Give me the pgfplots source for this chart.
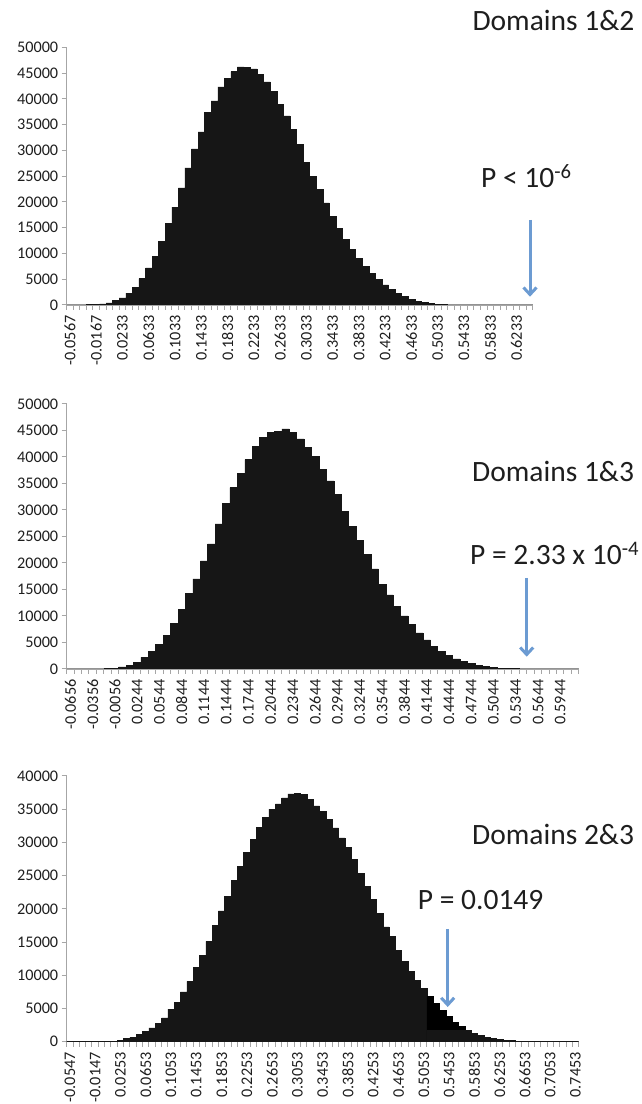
\documentclass[border=0pt]{standalone}
\usepackage{fontspec}
\setmainfont{Carlito}
\usepackage{pgfplots}
\pgfplotsset{compat=1.18}
\usetikzlibrary{arrows.meta}
\definecolor{barcol}{RGB}{22,22,22}
\definecolor{axgray}{RGB}{166,166,166}
\definecolor{arrowblue}{RGB}{108,155,210}
\definecolor{txt}{RGB}{30,30,30}
\pgfplotsset{
 hist/.style={
  scale only axis,
  axis lines*=left,
  tick pos=left,
  tick align=outside,
  enlargelimits=false,
  ymin=0,
  ytick distance=5000,
  scaled y ticks=false,
  axis line style={draw=axgray, line width=1.2pt},
  major tick length=5pt, minor tick length=5pt,
  every tick/.style={draw=axgray, line width=1pt},
  major x tick style={draw=none},
  /pgf/number format/assume math mode=true,
  /pgf/number format/1000 sep={},
  yticklabel style={font=\fontsize{16.2}{19}\selectfont, text=txt},
  xticklabel style={font=\fontsize{16.2}{19}\selectfont, text=txt, rotate=90, anchor=east, xshift=-2pt},
 },
 bars/.style={ybar, bar width=1, bar shift=0pt, fill=barcol, draw=barcol, line width=0.5pt},
}
\begin{document}
\begin{tikzpicture}[x=1pt,y=1pt]
\useasboundingbox (0,0) rectangle (641,1104);
% Panel 1: Domains 1&2
\begin{axis}[hist, at={(66.7pt,799pt)}, anchor=south west, width=466.3pt, height=257.7pt,
  xmin=-0.5, xmax=70.5, ymax=50000,
  xtick={0,4,...,68},
  xticklabels={-0.0567,-0.0167,0.0233,0.0633,0.1033,0.1433,0.1833,0.2233,0.2633,0.3033,0.3433,0.3833,0.4233,0.4633,0.5033,0.5433,0.5833,0.6233},
  minor xtick={-0.5,0.5,...,70.5}]
\addplot[bars] coordinates {
(0,30)(1,30)(2,40)(3,60)(4,100)(5,200)(6,400)(7,850)(8,1400)(9,2300)
(10,3400)(11,5100)(12,7200)(13,9500)(14,12300)(15,15800)(16,19000)(17,22700)(18,26600)(19,30300)
(20,33600)(21,37400)(22,39600)(23,42300)(24,44000)(25,45300)(26,46200)(27,46100)(28,45800)(29,44700)
(30,43300)(31,41400)(32,38900)(33,36700)(34,34100)(35,31200)(36,27700)(37,25000)(38,22500)(39,19800)
(40,17200)(41,14900)(42,12800)(43,10800)(44,9100)(45,7500)(46,6200)(47,5000)(48,3900)(49,3050)
(50,2300)(51,1600)(52,1100)(53,700)(54,450)(55,260)(56,130)(57,60)(58,40)(59,30)
(60,20)(61,20)(62,20)(63,20)(64,20)(65,20)(66,20)(67,20)(68,20)(69,20)(70,20)};
\end{axis}
% Panel 2: Domains 1&3
\begin{axis}[hist, at={(66.7pt,435pt)}, anchor=south west, width=512pt, height=265pt,
  xmin=-0.5, xmax=68.5, ymax=50000,
  xtick={0,3,...,66},
  xticklabels={-0.0656,-0.0356,-0.0056,0.0244,0.0544,0.0844,0.1144,0.1444,0.1744,0.2044,0.2344,0.2644,0.2944,0.3244,0.3544,0.3844,0.4144,0.4444,0.4744,0.5044,0.5344,0.5644,0.5944},
  minor xtick={-0.5,0.5,...,68.5}]
\addplot[bars] coordinates {
(0,30)(1,30)(2,30)(3,30)(4,40)(5,60)(6,100)(7,400)(8,750)(9,1300)
(10,2200)(11,3300)(12,4700)(13,6400)(14,8600)(15,11200)(16,14200)(17,17000)(18,20400)(19,23600)
(20,27400)(21,31200)(22,34200)(23,36900)(24,39500)(25,42000)(26,43700)(27,44700)(28,44800)(29,45300)
(30,44700)(31,43400)(32,41800)(33,40100)(34,37600)(35,35500)(36,32900)(37,29700)(38,26900)(39,24300)
(40,21600)(41,18900)(42,16000)(43,14000)(44,11800)(45,10000)(46,8400)(47,6800)(48,5500)(49,4300)
(50,3300)(51,2500)(52,1900)(53,1400)(54,1000)(55,700)(56,450)(57,300)(58,180)(59,110)
(60,60)(61,40)(62,30)(63,20)(64,20)(65,20)(66,20)(67,20)(68,20)};
\end{axis}
% Panel 3: Domains 2&3
\begin{axis}[hist, at={(66.7pt,62.3pt)}, anchor=south west, width=512pt, height=265.7pt,
  xmin=-0.5, xmax=80.5, ymax=40000,
  xtick={0,4,...,80},
  xticklabels={-0.0547,-0.0147,0.0253,0.0653,0.1053,0.1453,0.1853,0.2253,0.2653,0.3053,0.3453,0.3853,0.4253,0.4653,0.5053,0.5453,0.5853,0.6253,0.6653,0.7053,0.7453},
  minor xtick={-0.5,0.5,...,80.5}]
\addplot[bars] coordinates {
(0,30)(1,30)(2,30)(3,30)(4,30)(5,40)(6,60)(7,100)(8,250)(9,450)
(10,700)(11,1100)(12,1500)(13,2100)(14,2750)(15,3600)(16,4900)(17,5900)(18,7500)(19,9100)
(20,11200)(21,13000)(22,15100)(23,17500)(24,19700)(25,21900)(26,24300)(27,26400)(28,28500)(29,30500)
(30,32300)(31,33800)(32,35000)(33,35800)(34,36700)(35,37300)(36,37400)(37,37200)(38,36500)(39,35500)
(40,34700)(41,33500)(42,32200)(43,30700)(44,29200)(45,27400)(46,25300)(47,23400)(48,21400)(49,19300)
(50,17300)(51,15800)(52,13800)(53,12100)(54,10600)(55,9200)(56,8000)(57,6800)(58,5800)(59,4700)
(60,3800)(61,2900)(62,2300)(63,1700)(64,1250)(65,900)(66,650)(67,450)(68,300)(69,200)
(70,150)(71,100)(72,70)(73,50)(74,40)(75,30)(76,30)(77,20)(78,20)(79,20)(80,20)};
\addplot[bars, fill=black, draw=black] coordinates {
(57,6800)(58,5800)(59,4700)(60,3800)(61,2900)(62,2300)};
\addplot[bars] coordinates {
(57,1760)(58,1760)(59,1760)(60,1760)(61,1760)(62,1760)};
\end{axis}
% annotations
\begin{scope}[every node/.style={anchor=base west, inner sep=0pt, text=txt, font=\fontsize{29.5}{35}\selectfont}]
\node at (472.3,1073) {Domains 1\&2};
\node at (481,916.3) {P < 10\textsuperscript{-6}};
\node at (472,622.3) {Domains 1\&3};
\node at (470,539) {P = 2.33 x 10\textsuperscript{-4}};
\node at (472,259) {Domains 2\&3};
\node at (417.7,194) {P = 0.0149};
\end{scope}
\begin{scope}[arrowblue, line width=3pt, -{Straight Barb[width=13pt,length=7pt,line width=3pt]}]
\draw (530,884) -- (530,807.3);
\draw (526.7,526) -- (526.7,447.3);
\draw (447.7,175) -- (447.7,97);
\end{scope}
\end{tikzpicture}
\end{document}
